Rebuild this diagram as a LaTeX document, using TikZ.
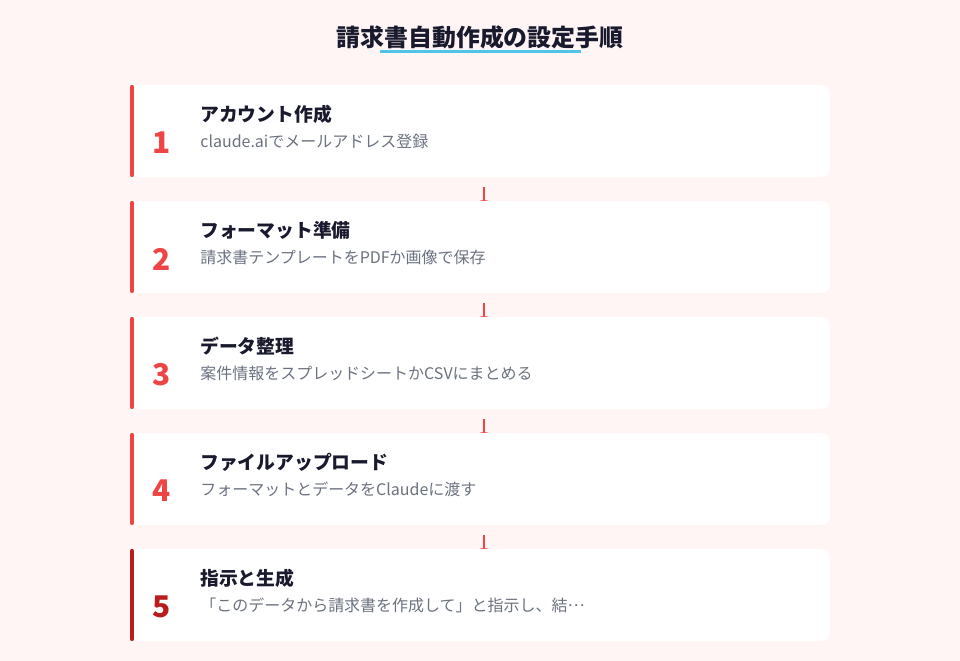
\documentclass[tikz,border=0pt]{standalone}
\usepackage{fontspec}
\setmainfont{Noto Sans CJK JP}
\usetikzlibrary{arrows.meta}

\definecolor{PageColor}{HTML}{FFF5F5}
\definecolor{InkColor}{HTML}{1A1A2E}
\definecolor{MutedColor}{HTML}{6B7280}
\definecolor{StepColor}{HTML}{EF4444}
\definecolor{LastColor}{HTML}{B91C1C}
\definecolor{LineColor}{HTML}{4FC3E8}

\tikzstyle{card}=[rectangle,
                  fill=white,
                  rounded corners=0.16cm,
                  minimum width=14cm,
                  minimum height=1.84cm]
\tikzstyle{stepbar}=[line width=0.09cm, line cap=round]
\tikzstyle{stepno}=[font=\fontsize{17}{17}\selectfont\bfseries, anchor=center]
\tikzstyle{steptitle}=[font=\fontsize{10.7}{12}\selectfont\bfseries, text=InkColor, anchor=west, inner sep=0pt]
\tikzstyle{stepnote}=[font=\fontsize{9.1}{11}\selectfont, text=MutedColor, anchor=west, inner sep=0pt]
\tikzstyle{connector}=[draw=StepColor, line width=0.04cm, -{Latex[length=0.14cm,width=0.16cm]},
                       shorten <=0.2cm, shorten >=-0.13cm]

\begin{document}
\begin{tikzpicture}[x=0.02cm, y=-0.02cm]

    \fill[PageColor] (0,0) rectangle (960,661);
    \useasboundingbox (0,0) rectangle (960,661);

    % title
    \node at (480, 37) (title) [font=\fontsize{13.6}{15}\selectfont\bfseries, text=InkColor] {請求書自動作成の設定手順};
    \draw[LineColor, line width=0.06cm] (380, 51.5) -- (581, 51.5);

    % card anchors
    \coordinate (c1) at (480, 131);
    \coordinate (c2) at (480, 247);
    \coordinate (c3) at (480, 363);
    \coordinate (c4) at (480, 479);
    \coordinate (c5) at (480, 595);

    % connectors below the cards
    \draw[connector] ([xshift=0.08cm]c1 |- 0,177) -- ([xshift=0.08cm]c2 |- 0,201);
    \draw[connector] ([xshift=0.08cm]c2 |- 0,293) -- ([xshift=0.08cm]c3 |- 0,317);
    \draw[connector] ([xshift=0.08cm]c3 |- 0,409) -- ([xshift=0.08cm]c4 |- 0,433);
    \draw[connector] ([xshift=0.08cm]c4 |- 0,525) -- ([xshift=0.08cm]c5 |- 0,549);

    \node at (c1) (card1) [card] {};
    \node at (c2) (card2) [card] {};
    \node at (c3) (card3) [card] {};
    \node at (c4) (card4) [card] {};
    \node at (c5) (card5) [card] {};

    \draw[stepbar, StepColor] ([xshift=0.045cm, yshift=-0.05cm]card1.north west) -- ([xshift=0.045cm, yshift=0.05cm]card1.south west);
    \draw[stepbar, StepColor] ([xshift=0.045cm, yshift=-0.05cm]card2.north west) -- ([xshift=0.045cm, yshift=0.05cm]card2.south west);
    \draw[stepbar, StepColor] ([xshift=0.045cm, yshift=-0.05cm]card3.north west) -- ([xshift=0.045cm, yshift=0.05cm]card3.south west);
    \draw[stepbar, StepColor] ([xshift=0.045cm, yshift=-0.05cm]card4.north west) -- ([xshift=0.045cm, yshift=0.05cm]card4.south west);
    \draw[stepbar, LastColor] ([xshift=0.045cm, yshift=-0.05cm]card5.north west) -- ([xshift=0.045cm, yshift=0.05cm]card5.south west);

    \node at (162, 143) (no1) [stepno, text=StepColor] {1};
    \node at (162, 259) (no2) [stepno, text=StepColor] {2};
    \node at (162, 375) (no3) [stepno, text=StepColor] {3};
    \node at (162, 491) (no4) [stepno, text=StepColor] {4};
    \node at (162, 607) (no5) [stepno, text=LastColor] {5};

    \node at (200, 114) (title1) [steptitle] {アカウント作成};
    \node at (200, 230) (title2) [steptitle] {フォーマット準備};
    \node at (200, 346) (title3) [steptitle] {データ整理};
    \node at (200, 462) (title4) [steptitle] {ファイルアップロード};
    \node at (200, 578) (title5) [steptitle] {指示と生成};

    \node at (200, 141) (note1) [stepnote] {claude.aiでメールアドレス登録};
    \node at (200, 257) (note2) [stepnote] {請求書テンプレートをPDFか画像で保存};
    \node at (200, 373) (note3) [stepnote] {案件情報をスプレッドシートかCSVにまとめる};
    \node at (200, 489) (note4) [stepnote] {フォーマットとデータをClaudeに渡す};
    \node at (200, 605) (note5) [stepnote] {「このデータから請求書を作成して」と指示し、結\raisebox{0.3em}{…}};
\end{tikzpicture}
\end{document}
